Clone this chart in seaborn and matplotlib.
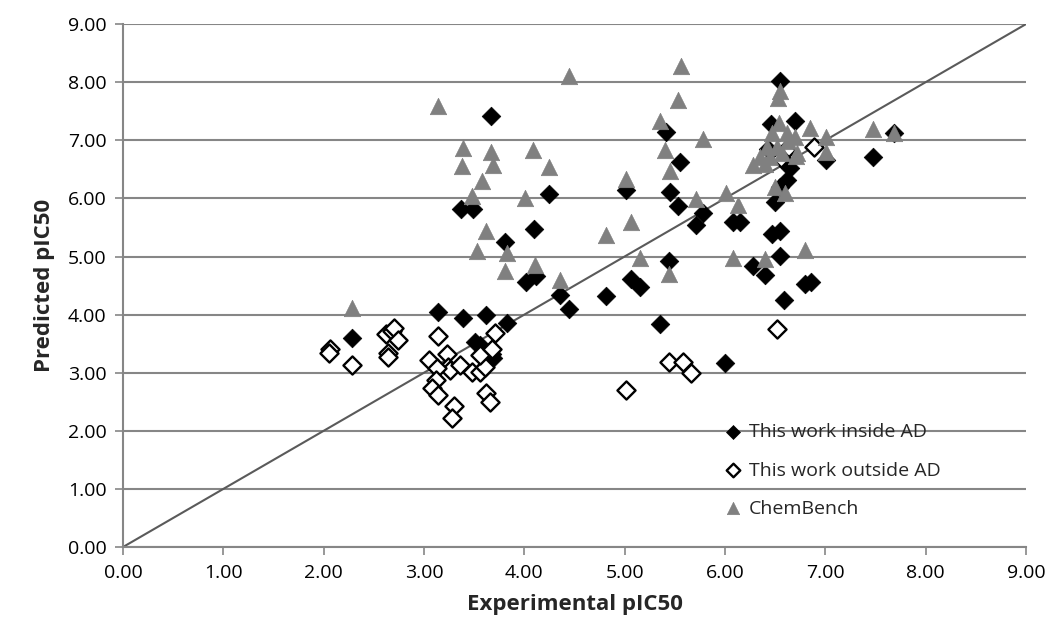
import numpy as np
import pandas as pd
import matplotlib
matplotlib.use("Agg")
import matplotlib.pyplot as plt
import seaborn as sns

# ── Data ─────────────────────────────────────────────────────────────────────
inside_x = [2.28, 3.14, 3.39, 3.62, 3.83, 3.51, 3.56, 3.68, 3.69, 3.67, 3.37, 3.49,
            3.81, 4.10, 4.02, 4.12, 4.36, 4.45, 4.81, 5.06, 5.15, 5.35, 4.25, 5.01,
            5.41, 5.55, 5.45, 5.53, 5.78, 5.71, 6.08, 6.15, 5.44, 6.00, 6.55, 6.70,
            6.46, 6.65, 6.62, 6.55, 6.50, 7.01, 6.47, 6.55, 6.55, 6.28, 6.40, 6.80,
            6.86, 6.59, 7.48, 7.69, 6.43]
inside_y = [3.59, 4.05, 3.94, 4.00, 3.86, 3.53, 3.48, 3.33, 3.25, 7.42, 5.81, 5.81,
            5.25, 5.48, 4.56, 4.66, 4.34, 4.09, 4.32, 4.62, 4.47, 3.84, 6.08, 6.14,
            7.14, 6.63, 6.11, 5.87, 5.75, 5.55, 5.60, 5.60, 4.93, 3.16, 8.02, 7.34,
            7.28, 6.52, 6.32, 6.19, 5.94, 6.66, 5.39, 5.44, 5.01, 4.84, 4.69, 4.52,
            4.57, 4.26, 6.72, 7.13, 6.85]

outside_x = [2.06, 2.05, 2.28, 2.62, 2.68, 2.70, 2.74, 2.64, 2.64, 3.14, 3.05, 3.23,
             3.24, 3.26, 3.36, 3.13, 3.48, 3.56, 3.61, 3.12, 3.08, 3.14, 3.62, 3.66,
             3.30, 3.28, 3.56, 3.71, 3.68, 5.01, 5.44, 5.58, 5.66, 6.52, 6.61, 6.89,
             6.56]
outside_y = [3.40, 3.34, 3.13, 3.66, 3.71, 3.77, 3.57, 3.34, 3.27, 3.63, 3.22, 3.33,
             3.10, 3.05, 3.13, 3.08, 3.02, 3.02, 3.10, 2.87, 2.73, 2.62, 2.65, 2.50,
             2.42, 2.22, 3.30, 3.68, 3.40, 2.70, 3.18, 3.18, 2.99, 3.75, 6.83, 6.89,
             6.69]

chem_x = [2.28, 3.14, 3.39, 3.38, 3.67, 3.69, 3.58, 3.48, 4.01, 4.09, 3.62, 3.53,
          3.83, 3.81, 4.45, 5.56, 5.53, 5.35, 5.78, 5.40, 4.25, 5.45, 5.01, 5.71,
          6.01, 6.13, 5.06, 4.81, 5.15, 6.08, 5.44, 4.11, 4.36, 6.55, 6.53, 6.85,
          7.01, 6.28, 6.50, 6.60, 6.71, 6.80, 6.40, 7.48, 7.69, 7.01, 6.47, 6.62,
          6.70, 6.42, 6.52, 6.63, 6.57, 6.35, 6.45, 6.40, 6.72, 6.54]
chem_y = [4.12, 7.59, 6.87, 6.56, 6.80, 6.57, 6.30, 6.05, 6.01, 6.83, 5.44, 5.09,
          5.06, 4.75, 8.10, 8.28, 7.70, 7.33, 7.02, 6.83, 6.54, 6.48, 6.34, 5.99,
          6.09, 5.88, 5.59, 5.37, 4.97, 4.97, 4.70, 4.85, 4.60, 7.85, 7.72, 7.21,
          7.06, 6.57, 6.20, 6.10, 6.73, 5.11, 4.95, 7.19, 7.13, 6.80, 7.12, 7.12,
          7.06, 6.89, 6.89, 6.98, 6.78, 6.72, 6.72, 6.60, 6.78, 7.29]

x_ticks = [0, 1, 2, 3, 4, 5, 6, 7, 8, 9]

# ── Style ────────────────────────────────────────────────────────────────────
sns.set_theme(style="white")
plt.rcParams["font.family"] = ["Open Sans", "DejaVu Sans"]
GRID = "#868686"

fig = plt.figure(figsize=(10.56, 6.4), dpi=100)
ax = fig.add_axes([0.1165, 0.1453, 0.855, 0.817])

ax.plot([0, 9], [0, 9], color="#5a5a5a", lw=1.5, zorder=1)

sns.scatterplot(x=inside_x, y=inside_y, ax=ax, marker="D", s=90, color="black",
                edgecolor="black", linewidth=0.5, label="This work inside AD", zorder=3)
sns.scatterplot(x=outside_x, y=outside_y, ax=ax, marker="D", s=85, color="white",
                edgecolor="black", linewidth=1.7, label="This work outside AD", zorder=3)
sns.scatterplot(x=chem_x, y=chem_y, ax=ax, marker="^", s=140, color="#808080",
                edgecolor="#808080", linewidth=0.5, label="ChemBench", zorder=4)

ax.set_xlim(0, 9)
ax.set_ylim(0, 9)
ax.set_xticks(x_ticks)
ax.set_yticks(x_ticks)
ax.set_xticklabels([f"{v:.2f}" for v in x_ticks])
ax.set_yticklabels([f"{v:.2f}" for v in x_ticks])
ax.tick_params(axis="both", labelsize=14, labelcolor="black", length=6, width=1.2,
               direction="out", bottom=True, left=True, pad=6, color=GRID)

ax.yaxis.grid(True, color=GRID, lw=1.5)
ax.xaxis.grid(False)
ax.set_axisbelow(True)
for side in ["top", "right"]:
    ax.spines[side].set_visible(False)
for side in ["left", "bottom"]:
    ax.spines[side].set_color(GRID)
    ax.spines[side].set_linewidth(1.5)

ax.set_xlabel("Experimental pIC50", fontsize=16, fontweight="bold", labelpad=9)
ax.set_ylabel("Predicted pIC50", fontsize=16, fontweight="bold", labelpad=9)

leg = ax.legend(loc="upper left", bbox_to_anchor=(0.648, 0.266), frameon=False,
                fontsize=14, handlelength=1.0, handletextpad=0.3, labelspacing=1.03,
                markerscale=0.75, borderpad=0.3)

fig.savefig("out.png", dpi=100)
